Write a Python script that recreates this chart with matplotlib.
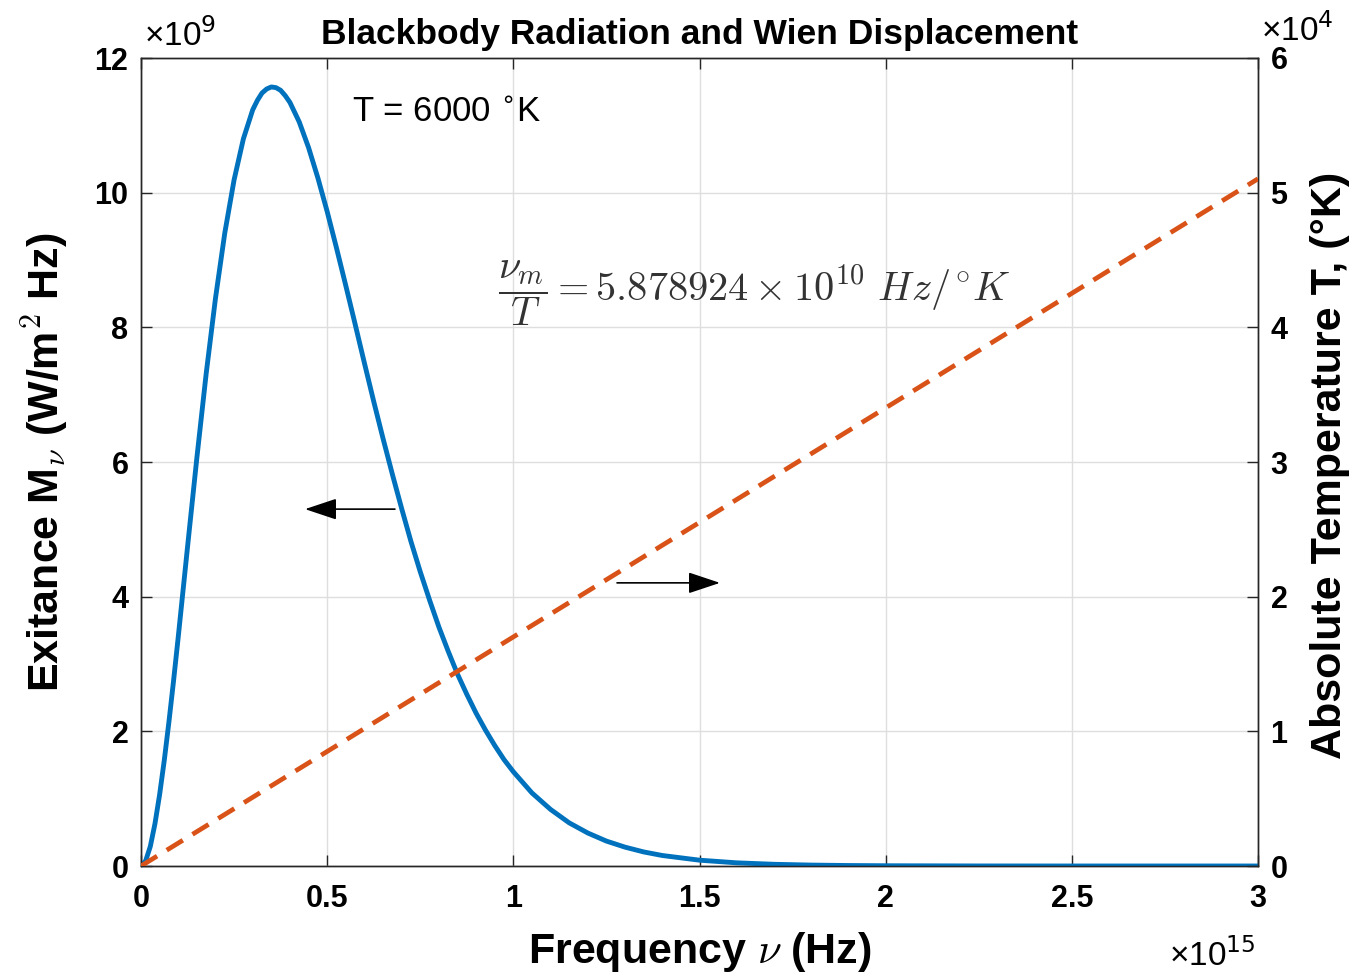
import matplotlib.pyplot as plt
from matplotlib.ticker import FuncFormatter

plt.rcParams['font.family'] = ['Liberation Sans', 'DejaVu Sans']
plt.rcParams['mathtext.fontset'] = 'cm'

# ── Datos ────────────────────────────────────────────────────────────────────
freq = [0, 0.0125, 0.025, 0.0375, 0.05, 0.0625, 0.075, 0.0875, 0.1, 0.125,
        0.15, 0.175, 0.2, 0.225, 0.25, 0.275, 0.3, 0.3125, 0.325, 0.3375,
        0.35, 0.3625, 0.375, 0.3875, 0.4, 0.425, 0.45, 0.475, 0.5, 0.525,
        0.55, 0.575, 0.6, 0.625, 0.65, 0.675, 0.7, 0.725, 0.75, 0.775, 0.8,
        0.825, 0.85, 0.875, 0.9, 0.925, 0.95, 0.975, 1.0, 1.05, 1.1, 1.15,
        1.2, 1.25, 1.3, 1.35, 1.4, 1.5, 1.6, 1.7, 1.8, 1.9, 2.0, 2.25, 2.5,
        3.0]                                                # x 1e15 Hz
exitance = [0, 0.077, 0.29, 0.628, 1.06, 1.569, 2.14, 2.754, 3.40, 4.74,
            6.06, 7.31, 8.43, 9.40, 10.19, 10.80, 11.23, 11.37, 11.48, 11.54,
            11.57, 11.56, 11.52, 11.44, 11.34, 11.05, 10.67, 10.22, 9.72, 9.18,
            8.62, 8.05, 7.47, 6.90, 6.35, 5.82, 5.31, 4.82, 4.37, 3.95, 3.55,
            3.19, 2.85, 2.55, 2.27, 2.02, 1.79, 1.58, 1.40, 1.085, 0.84, 0.641,
            0.49, 0.370, 0.28, 0.209, 0.156, 0.0864, 0.047, 0.0254, 0.0135,
            0.0072, 0.0038, 0.0007, 0.0001, 0.0]            # x 1e9 W/m^2 Hz
freq_T = [0, 3.0]            # x 1e15 Hz
temp = [0, 51030]            # K

nu = [f * 1e15 for f in freq]
M = [m * 1e9 for m in exitance]
nu_T = [f * 1e15 for f in freq_T]

blue = '#0072BD'
orange = '#D95319'
axcol = '#262626'

fig = plt.figure(figsize=(13.54, 9.74), dpi=100)
ax = fig.add_axes([141 / 1354, 1 - 866 / 974, 1117 / 1354, 808 / 974])
ax2 = ax.twinx()

ax.plot(nu, M, color=blue, linewidth=3.5, zorder=3)
ax2.plot(nu_T, temp, color=orange, linewidth=3.4, linestyle=(0, (4.0, 2.4)), zorder=3)

ax.set_xlim(0, 3e15)
ax.set_ylim(0, 12e9)
ax2.set_ylim(0, 6e4)
ax.set_xticks([i * 0.5e15 for i in range(7)])
ax.set_yticks([i * 2e9 for i in range(7)])
ax2.set_yticks([i * 1e4 for i in range(7)])

ax.xaxis.set_major_formatter(FuncFormatter(lambda v, p: f'{v / 1e15:g}'))
ax.yaxis.set_major_formatter(FuncFormatter(lambda v, p: f'{v / 1e9:g}'))
ax2.yaxis.set_major_formatter(FuncFormatter(lambda v, p: f'{v / 1e4:g}'))

ax.grid(True, color='#dedede', linewidth=1.0)
ax.set_axisbelow(True)

for a in (ax, ax2):
    for s in a.spines.values():
        s.set_color(axcol)
        s.set_linewidth(1.0)
ax.tick_params(axis='x', direction='in', top=True, length=8, width=1,
               color=axcol, labelsize=22, pad=13)
ax.tick_params(axis='y', direction='in', length=8, width=1, color=axcol,
               labelsize=22, pad=9)
ax2.tick_params(axis='y', direction='in', length=8, width=1, color=axcol,
                labelsize=22, pad=9)
for lab in ax.get_xticklabels() + ax.get_yticklabels() + ax2.get_yticklabels():
    lab.set_fontweight('bold')

ax.set_title('Blackbody Radiation and Wien Displacement', fontsize=25.5,
             fontweight='bold', pad=10)
ax.set_xlabel(r'Frequency $\nu$ (Hz)', fontsize=31, fontweight='bold')
ax.xaxis.set_label_coords(0.5, -0.106)
ax.xaxis.label.set_va('center')
ax.set_ylabel(r'Exitance M$_\nu$ (W/m$^{\mathbf{2}}$ Hz)', fontsize=31,
              fontweight='bold')
ax.yaxis.set_label_coords(-0.086, 0.5)
ax.yaxis.label.set_va('center')
ax2.set_ylabel('Absolute Temperature T, (°K)', fontsize=31, fontweight='bold',
               rotation=90)
ax2.yaxis.set_label_coords(1.0645, 0.496)
ax2.yaxis.label.set_va('center')

# factores de escala estilo MATLAB
ax.text(0.003, 1.006, r'×10$^{9}$', transform=ax.transAxes, fontsize=24,
        ha='left', va='bottom', math_fontfamily='dejavusans')
ax.text(1.003, 1.012, r'×10$^{4}$', transform=ax.transAxes, fontsize=24,
        ha='left', va='bottom', math_fontfamily='dejavusans')
ax.text(0.998, -0.132, r'×10$^{15}$', transform=ax.transAxes, fontsize=24,
        ha='right', va='bottom', math_fontfamily='dejavusans')

# anotaciones
ax.text(0.567e15, 11.19e9, r'T = 6000 $^{\circ}$K', fontsize=25,
        ha='left', va='center', math_fontfamily='dejavusans')
ax.text(0.96e15, 8.5e9,
        r'$\dfrac{\nu_m}{T} = 5.878924 \times 10^{10}\ Hz/^{\circ}K$',
        fontsize=29, ha='left', va='center', color='#333333')

arrow = dict(arrowstyle='-|>,head_length=0.9,head_width=0.3', color='black',
             lw=1.2, shrinkA=0, shrinkB=0, mutation_scale=22)
ax.annotate('', xy=(0.4405e15, 5.30e9), xytext=(0.682e15, 5.30e9),
            arrowprops=arrow, zorder=5)
ax.annotate('', xy=(1.555e15, 4.205e9), xytext=(1.2785e15, 4.205e9),
            arrowprops=arrow, zorder=5)

fig.savefig('out.png', dpi=100)
